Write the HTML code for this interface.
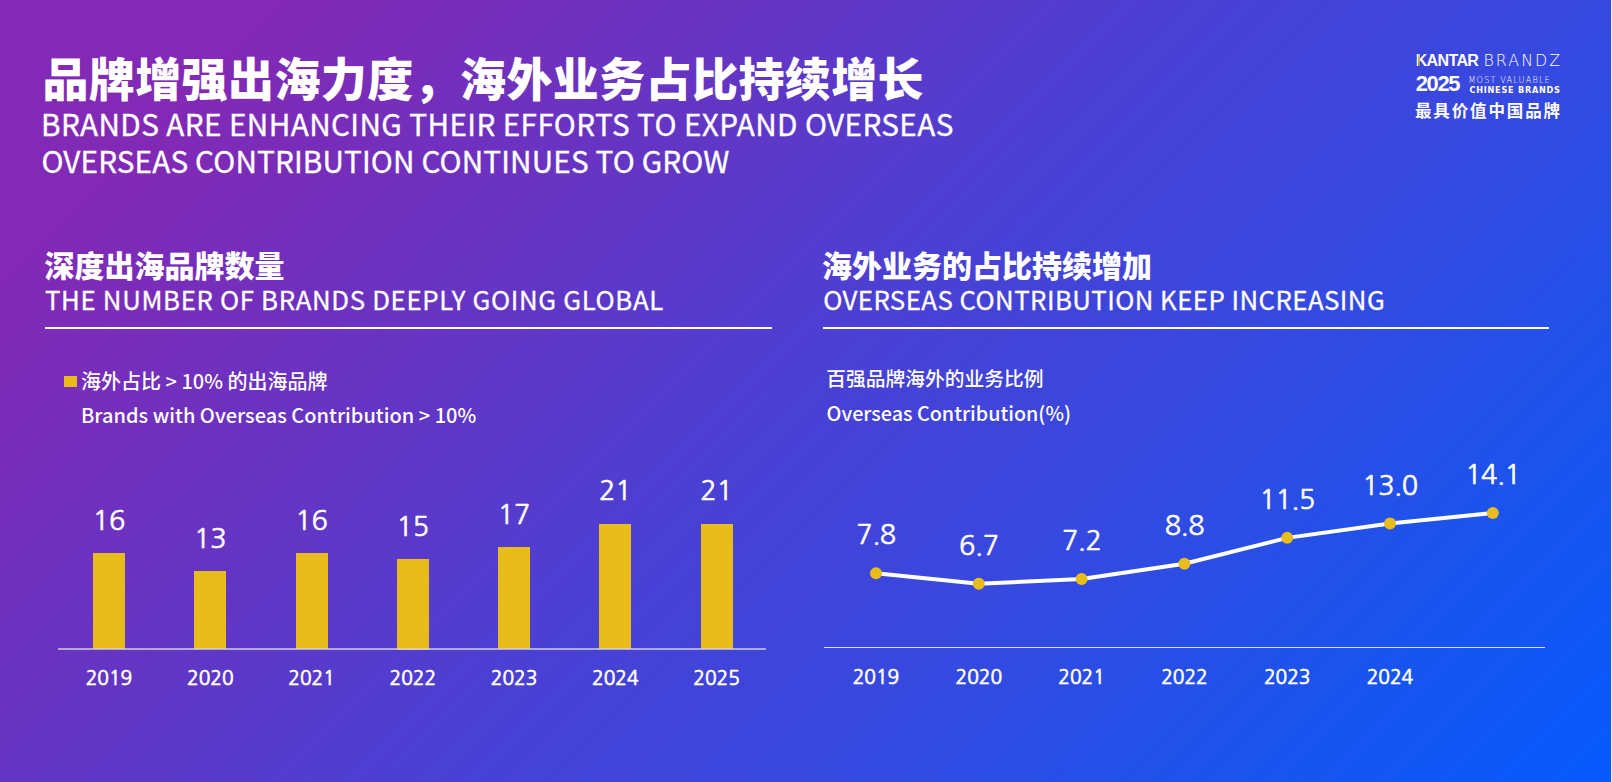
<!DOCTYPE html>
<html lang="zh-CN">
<head>
<meta charset="utf-8">
<title>品牌增强出海力度，海外业务占比持续增长</title>
<style>
html,body{margin:0;padding:0;}
body{width:1612px;height:782px;overflow:hidden;position:relative;
  background:linear-gradient(135deg,#8229B5 0%,#8229B5 12%,#6435C4 33.3%,#4A40D4 50%,#3649E0 67%,#1C53EC 83%,#065AFE 100%);
  font-family:"Noto Sans CJK SC","Liberation Sans",sans-serif;color:#fff;}
.t{position:absolute;white-space:nowrap;color:#fff;}
.cn{font-family:"Noto Sans CJK SC","Liberation Sans",sans-serif;}
.rule{position:absolute;height:2px;background:#fff;}
.bar{position:absolute;width:32px;background:#E8BC1B;}
.num{width:80px;text-align:center;font-family:'NanumGothic','Liberation Sans',sans-serif;font-size:27px;line-height:28px;font-weight:400;-webkit-text-stroke:0.6px #fff;}
.dec{letter-spacing:-0.5px;}
.yr{width:80px;text-align:center;font-family:'NanumGothic','Liberation Sans',sans-serif;font-size:19.2px;line-height:20px;font-weight:400;-webkit-text-stroke:0.7px #fff;}
.edge{position:absolute;left:1611px;top:0;width:1px;height:782px;background:#f4f4ff;}
</style>
</head>
<body>
<!-- Title -->
<div class="t cn" style="left:42.4px;top:53px;font-size:46px;line-height:46px;font-weight:900;letter-spacing:0.4px;">品牌增强出海力度，海外业务占比持续增长</div>
<div class="t" style="left:41px;top:109px;font-size:29.7px;line-height:30px;font-weight:400;letter-spacing:0.4px;-webkit-text-stroke:0.35px #fff;">BRANDS ARE ENHANCING THEIR EFFORTS TO EXPAND OVERSEAS</div>
<div class="t" style="left:41.5px;top:146px;font-size:29.7px;line-height:30px;font-weight:400;letter-spacing:0.15px;-webkit-text-stroke:0.35px #fff;">OVERSEAS CONTRIBUTION CONTINUES TO GROW</div>

<!-- Logo -->
<div class="t" style="left:1415.7px;top:53.2px;font-family:'Liberation Sans',sans-serif;font-weight:700;font-size:16px;line-height:16px;letter-spacing:-0.64px;">KANTAR</div>
<div style="position:absolute;left:1418.3px;top:54.2px;width:1.6px;height:11.5px;background:linear-gradient(180deg,#E6C98A,#A8843E);"></div>
<div class="t" style="left:1483.4px;top:53.2px;font-family:'DejaVu Sans',sans-serif;font-weight:200;font-size:15.8px;line-height:16px;letter-spacing:2.1px;">BRANDZ</div>
<div class="t" style="left:1415.7px;top:74px;font-family:'Liberation Sans',sans-serif;font-weight:700;font-size:21.9px;line-height:20px;letter-spacing:-1.33px;">2025</div>
<div class="t" style="left:1468.4px;top:76.3px;font-family:'DejaVu Sans',sans-serif;font-weight:200;font-size:8.2px;line-height:8px;letter-spacing:1.13px;">MOST VALUABLE</div>
<div class="t" style="left:1469.4px;top:85.7px;font-family:'DejaVu Sans',sans-serif;font-weight:700;font-size:8.2px;line-height:8px;letter-spacing:0.73px;">CHINESE BRANDS</div>
<div class="t cn" style="left:1415px;top:100.5px;font-size:16.5px;line-height:18px;font-weight:700;letter-spacing:1.87px;">最具价值中国品牌</div>

<!-- Left section heading -->
<div class="t cn" style="left:44.4px;top:249.1px;font-size:30px;line-height:30px;font-weight:900;">深度出海品牌数量</div>
<div class="t" style="left:45px;top:286px;font-size:25.8px;line-height:26px;font-weight:400;letter-spacing:0.66px;-webkit-text-stroke:0.3px #fff;">THE NUMBER OF BRANDS DEEPLY GOING GLOBAL</div>
<div class="rule" style="left:45px;top:326.5px;width:727px;"></div>

<!-- Right section heading -->
<div class="t cn" style="left:822px;top:249.2px;font-size:30px;line-height:30px;font-weight:900;">海外业务的占比持续增加</div>
<div class="t" style="left:823.2px;top:286px;font-size:25.8px;line-height:26px;font-weight:400;letter-spacing:0.44px;-webkit-text-stroke:0.3px #fff;">OVERSEAS CONTRIBUTION KEEP INCREASING</div>
<div class="rule" style="left:823.3px;top:326.5px;width:726px;"></div>

<!-- Left legend -->
<div style="position:absolute;left:63.9px;top:375.7px;width:13px;height:11.7px;background:#E8BC1B;"></div>
<div class="t" style="left:81px;top:371.4px;font-size:20px;line-height:20px;font-weight:500;">海外占比 &gt; 10% 的出海品牌</div>
<div class="t" style="left:81px;top:404.9px;font-size:20px;line-height:20px;font-weight:500;">Brands with Overseas Contribution &gt; 10%</div>

<!-- Right legend -->
<div class="t" style="left:826.2px;top:368px;font-size:19.75px;line-height:20px;font-weight:500;">百强品牌海外的业务比例</div>
<div class="t" style="left:826.6px;top:402.6px;font-size:19.75px;line-height:20px;font-weight:500;">Overseas Contribution(%)</div>

<!-- Bar chart -->
<div id="bars">
<div class="bar" style="left:93.00px;top:553.30px;height:96.20px;"></div>
<div class="t num" style="left:69.00px;top:507.20px;">16</div>
<div class="t yr" style="left:69.00px;top:669.3px;">2019</div>
<div class="bar" style="left:194.27px;top:571.15px;height:78.35px;"></div>
<div class="t num" style="left:170.27px;top:525.05px;">13</div>
<div class="t yr" style="left:170.27px;top:669.3px;">2020</div>
<div class="bar" style="left:295.54px;top:553.30px;height:96.20px;"></div>
<div class="t num" style="left:271.54px;top:507.20px;">16</div>
<div class="t yr" style="left:271.54px;top:669.3px;">2021</div>
<div class="bar" style="left:396.81px;top:559.25px;height:90.25px;"></div>
<div class="t num" style="left:372.81px;top:513.15px;">15</div>
<div class="t yr" style="left:372.81px;top:669.3px;">2022</div>
<div class="bar" style="left:498.08px;top:547.35px;height:102.15px;"></div>
<div class="t num" style="left:474.08px;top:501.25px;">17</div>
<div class="t yr" style="left:474.08px;top:669.3px;">2023</div>
<div class="bar" style="left:599.35px;top:523.55px;height:125.95px;"></div>
<div class="t num" style="left:575.35px;top:477.45px;">21</div>
<div class="t yr" style="left:575.35px;top:669.3px;">2024</div>
<div class="bar" style="left:700.62px;top:523.55px;height:125.95px;"></div>
<div class="t num" style="left:676.62px;top:477.45px;">21</div>
<div class="t yr" style="left:676.62px;top:669.3px;">2025</div>
<div style="position:absolute;left:58.4px;top:648px;width:707.6px;height:2px;background:rgba(217,217,217,0.7);"></div>
</div>

<!-- Line chart -->
<div id="linechart">
<div style="position:absolute;left:824.2px;top:646.8px;width:720.6px;height:1.4px;background:rgba(240,240,255,0.9);"></div>
<svg style="position:absolute;left:0;top:0;" width="1612" height="782" viewBox="0 0 1612 782">
<polyline fill="none" stroke="#fff" stroke-width="4" stroke-linejoin="round" points="876.00,573.27 978.80,583.79 1081.60,579.01 1184.40,563.70 1287.20,537.87 1390.00,523.52 1492.80,512.99"/>
<circle cx="876.00" cy="573.27" r="6" fill="#E8BC1B"/>
<circle cx="978.80" cy="583.79" r="6" fill="#E8BC1B"/>
<circle cx="1081.60" cy="579.01" r="6" fill="#E8BC1B"/>
<circle cx="1184.40" cy="563.70" r="6" fill="#E8BC1B"/>
<circle cx="1287.20" cy="537.87" r="6" fill="#E8BC1B"/>
<circle cx="1390.00" cy="523.52" r="6" fill="#E8BC1B"/>
<circle cx="1492.80" cy="512.99" r="6" fill="#E8BC1B"/>
</svg>
<div class="t num dec" style="left:836.00px;top:521.37px;">7.8</div>
<div class="t yr" style="left:836.00px;top:667.5px;">2019</div>
<div class="t num dec" style="left:938.80px;top:531.89px;">6.7</div>
<div class="t yr" style="left:938.80px;top:667.5px;">2020</div>
<div class="t num dec" style="left:1041.60px;top:527.11px;">7.2</div>
<div class="t yr" style="left:1041.60px;top:667.5px;">2021</div>
<div class="t num dec" style="left:1144.40px;top:511.80px;">8.8</div>
<div class="t yr" style="left:1144.40px;top:667.5px;">2022</div>
<div class="t num dec" style="left:1247.20px;top:485.97px;">11.5</div>
<div class="t yr" style="left:1247.20px;top:667.5px;">2023</div>
<div class="t num dec" style="left:1350.00px;top:471.62px;">13.0</div>
<div class="t yr" style="left:1350.00px;top:667.5px;">2024</div>
<div class="t num dec" style="left:1452.80px;top:461.09px;">14.1</div>
</div>

<div class="edge"></div>
</body>
</html>
